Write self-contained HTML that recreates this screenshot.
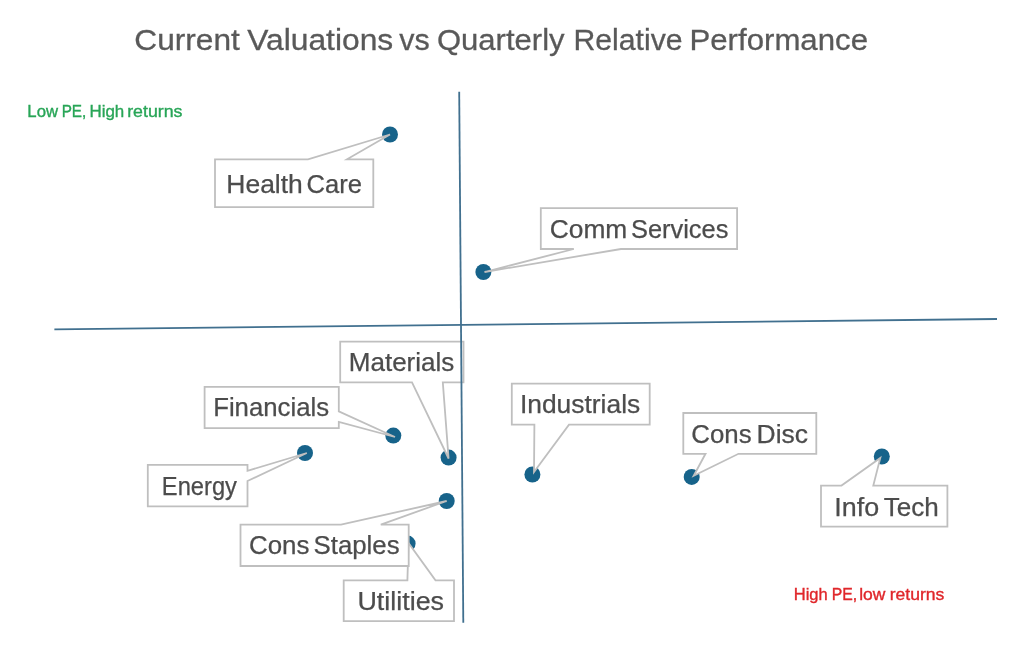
<!DOCTYPE html>
<html lang="en">
<head>
<meta charset="utf-8">
<title>Current Valuations vs Quarterly Relative Performance</title>
<style>
html,body{margin:0;padding:0;background:#fff;}
body{width:1024px;height:652px;overflow:hidden;}
svg{display:block;}
text{font-family:"Liberation Sans",sans-serif;}
.lbl{font-size:25px;fill:#4c4c4c;stroke:#4c4c4c;stroke-width:0.25;}
.ttl{font-size:30.2px;fill:#595959;stroke:#595959;stroke-width:0.3;}
.box{fill:#fff;stroke:#bfbfbf;stroke-width:1.8;stroke-linejoin:miter;}
.dot{fill:#17638a;}
.axis{stroke:#41708f;stroke-width:1.8;fill:none;}
</style>
</head>
<body>
<svg width="1024" height="652" viewBox="0 0 1024 652">
<rect width="1024" height="652" fill="#ffffff"/>

<!-- title -->
<text class="ttl" y="49.6"><tspan x="134.3" textLength="105.6" lengthAdjust="spacingAndGlyphs">Current</tspan> <tspan x="247.24" textLength="145.99" lengthAdjust="spacingAndGlyphs">Valuations</tspan> <tspan x="399.27" textLength="30.44" lengthAdjust="spacingAndGlyphs">vs</tspan> <tspan x="436.94" textLength="127.62" lengthAdjust="spacingAndGlyphs">Quarterly</tspan> <tspan x="573.52" textLength="109.04" lengthAdjust="spacingAndGlyphs">Relative</tspan> <tspan x="689.44" textLength="178.56" lengthAdjust="spacingAndGlyphs">Performance</tspan></text>

<!-- corner notes -->
<text font-size="16" fill="#28a557" stroke="#28a557" stroke-width="0.35" y="116.9"><tspan x="27.37" textLength="30.63" lengthAdjust="spacingAndGlyphs">Low</tspan> <tspan x="61.66" textLength="24.67" lengthAdjust="spacingAndGlyphs">PE,</tspan> <tspan x="89.46" textLength="34.8" lengthAdjust="spacingAndGlyphs">High</tspan> <tspan x="127.19" textLength="55.25" lengthAdjust="spacingAndGlyphs">returns</tspan></text>

<text font-size="16" fill="#e0262a" stroke="#e0262a" stroke-width="0.35" y="599.8"><tspan x="793.79" textLength="33.95" lengthAdjust="spacingAndGlyphs">High</tspan> <tspan x="831.72" textLength="25.46" lengthAdjust="spacingAndGlyphs">PE,</tspan> <tspan x="859.21" textLength="26.2" lengthAdjust="spacingAndGlyphs">low</tspan> <tspan x="889.7" textLength="54.63" lengthAdjust="spacingAndGlyphs">returns</tspan></text>

<!-- data points -->
<circle class="dot" cx="390" cy="134.5" r="8"/>
<circle class="dot" cx="483.4" cy="272" r="8"/>
<circle class="dot" cx="393.3" cy="435.6" r="8"/>
<circle class="dot" cx="305" cy="453" r="8"/>
<circle class="dot" cx="448.6" cy="457.6" r="8"/>
<circle class="dot" cx="446.7" cy="501" r="8"/>
<circle class="dot" cx="407.6" cy="543.6" r="8"/>
<circle class="dot" cx="532.4" cy="474.5" r="8"/>
<circle class="dot" cx="691.7" cy="476.9" r="8"/>
<circle class="dot" cx="881.8" cy="456.5" r="8"/>

<!-- Utilities (sits under Cons Staples) -->
<path class="box" d="M343.7 580.4 L407.4 580.4 L408.5 543 L435.5 580.4 L454 580.4 L454 621.2 L343.7 621.2 Z"/>
<text class="lbl" y="610.3"><tspan x="357.42" textLength="86.63" lengthAdjust="spacingAndGlyphs">Utilities</tspan></text>

<!-- Health Care -->
<path class="box" d="M215 159.3 L308 159.3 L390 134.5 L347 159.3 L373.3 159.3 L373.3 207.1 L215 207.1 Z"/>
<text class="lbl" y="192.6"><tspan x="226.32" textLength="76.5" lengthAdjust="spacingAndGlyphs">Health</tspan> <tspan x="306.51" textLength="55.4" lengthAdjust="spacingAndGlyphs">Care</tspan></text>

<!-- Comm Services -->
<path class="box" d="M540.8 208.2 L737.1 208.2 L737.1 249 L621 249 L484.5 272 L573.8 249 L540.8 249 Z"/>
<text class="lbl" y="237.7"><tspan x="549.76" textLength="77.56" lengthAdjust="spacingAndGlyphs">Comm</tspan> <tspan x="631.02" textLength="97.39" lengthAdjust="spacingAndGlyphs">Services</tspan></text>

<!-- Financials -->
<path class="box" d="M204.6 386.9 L338.8 386.9 L338.8 411.3 L395 437 L338.8 422 L338.8 428.1 L204.6 428.1 Z"/>
<text class="lbl" y="416.4"><tspan x="213.18" textLength="115.89" lengthAdjust="spacingAndGlyphs">Financials</tspan></text>

<!-- Materials -->
<path class="box" d="M340.2 341.6 L463.5 341.6 L463.5 382.4 L442.8 382.4 L448.6 458.5 L412 382.4 L340.2 382.4 Z"/>
<text class="lbl" y="371.1"><tspan x="348.76" textLength="105.58" lengthAdjust="spacingAndGlyphs">Materials</tspan></text>

<!-- Energy -->
<path class="box" d="M147.8 464.9 L247.5 464.9 L247.5 470.8 L306.8 453 L247.5 481 L247.5 506.3 L147.8 506.3 Z"/>
<text class="lbl" y="495.1"><tspan x="161.85" textLength="75.14" lengthAdjust="spacingAndGlyphs">Energy</tspan></text>

<!-- Cons Staples -->
<path class="box" d="M240.5 524.6 L341 524.6 L446.7 501 L380.8 524.6 L408.7 524.6 L408.7 566 L240.5 566 Z"/>
<text class="lbl" y="553.6"><tspan x="248.99" textLength="60.44" lengthAdjust="spacingAndGlyphs">Cons</tspan> <tspan x="313.59" textLength="86.01" lengthAdjust="spacingAndGlyphs">Staples</tspan></text>

<!-- Industrials -->
<path class="box" d="M511.8 383.6 L649.7 383.6 L649.7 424.6 L569 424.6 L534 472 L534.4 424.6 L511.8 424.6 Z"/>
<text class="lbl" y="412.8"><tspan x="519.94" textLength="120.26" lengthAdjust="spacingAndGlyphs">Industrials</tspan></text>

<!-- Cons Disc -->
<path class="box" d="M683.3 413 L816.3 413 L816.3 453.8 L738.5 453.8 L693.7 475.8 L705.5 453.8 L683.3 453.8 Z"/>
<text class="lbl" y="442.9"><tspan x="691.29" textLength="60.33" lengthAdjust="spacingAndGlyphs">Cons</tspan> <tspan x="756.62" textLength="51.41" lengthAdjust="spacingAndGlyphs">Disc</tspan></text>

<!-- Info Tech -->
<path class="box" d="M821 485.6 L841.5 485.6 L880.3 458 L873.3 485.6 L947.4 485.6 L947.4 526.6 L821 526.6 Z"/>
<text class="lbl" y="515.6"><tspan x="834.29" textLength="44.82" lengthAdjust="spacingAndGlyphs">Info</tspan> <tspan x="883.71" textLength="55.04" lengthAdjust="spacingAndGlyphs">Tech</tspan></text>

<!-- quadrant axes -->
<line class="axis" x1="54.4" y1="329.3" x2="997" y2="319"/>
<line class="axis" x1="459.2" y1="91.7" x2="463.3" y2="622.7"/>
</svg>
</body>
</html>
